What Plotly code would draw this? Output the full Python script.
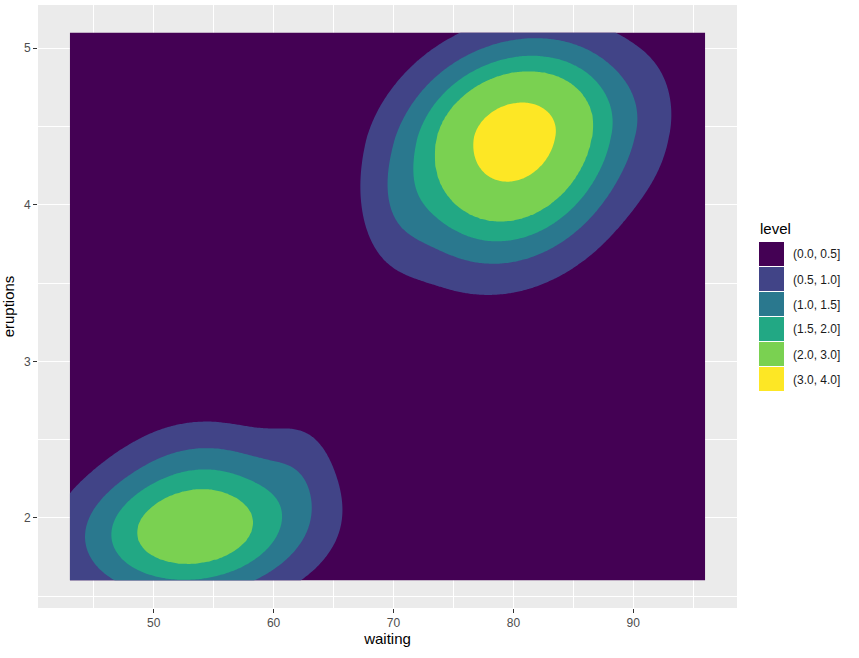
import numpy as np
import plotly.graph_objects as go

# ---- data ----
level_breaks = [0.0, 0.5, 1.0, 1.5, 2.0, 3.0, 4.0]
level_labels = ["(0.0, 0.5]", "(0.5, 1.0]", "(1.0, 1.5]", "(1.5, 2.0]", "(2.0, 3.0]", "(3.0, 4.0]"]
level_colors = ["#440154", "#414487", "#2A788E", "#22A884", "#7AD151", "#FDE725"]

waiting_range = [43, 96]
eruptions_range = [1.6, 5.1]
x_ticks = [50, 60, 70, 80, 90]
y_ticks = [2, 3, 4, 5]

# density bumps estimated from the contour rings
bump_wait = [80.1, 70.0, 92.0, 53.4, 54.0, 62.5]
bump_erupt = [4.43, 3.95, 4.55, 1.93, 2.45, 2.38]
bump_sd_wait = [6.2, 2.2, 2.2, 6.6, 5.0, 2.2]
bump_sd_erupt_up = [0.40, 0.30, 0.40, 0.31, 0.24, 0.26]
bump_sd_erupt_down = [0.51, 0.30, 0.40, 0.31, 0.20, 0.28]
bump_rho = [0.18, 0.0, 0.0, 0.12, 0.0, 0.0]
bump_peak = [3.5, 0.27, 0.14, 2.6, 0.35, 0.30]

# ---- density surface ----
xs = np.linspace(waiting_range[0], waiting_range[1], 260)
ys = np.linspace(eruptions_range[0], eruptions_range[1], 260)
X, Y = np.meshgrid(xs, ys)
Z = np.zeros_like(X)
for mx, my, sx, su, sd, r, p in zip(bump_wait, bump_erupt, bump_sd_wait,
                                    bump_sd_erupt_up, bump_sd_erupt_down, bump_rho, bump_peak):
    dx = (X - mx) / sx
    dy = (Y - my) / np.where(Y > my, su, sd)
    Z += p * np.exp(-0.5 / (1 - r * r) * (dx * dx - 2 * r * dx * dy + dy * dy))

# map level breaks to equally spaced band indices so uneven breaks work
Zi = np.interp(Z, level_breaks, list(range(len(level_breaks))))
n = len(level_colors)
colorscale = []
for i, c in enumerate(level_colors):
    colorscale.append([i / n, c])
    colorscale.append([(i + 1) / n, c])

fig = go.Figure()
fig.add_trace(go.Contour(
    x=xs, y=ys, z=Zi, zmin=0, zmax=n,
    autocontour=False,
    contours=dict(start=1, end=n - 1, size=1, coloring="fill"),
    line=dict(width=0),
    colorscale=colorscale, showscale=False, hoverinfo="skip",
))

# ---- layout ----
L, R, T, B = 38, 122, 5, 50
W, H = 859, 658
pw, ph = W - L - R, H - T - B
xpad = 0.05 * (waiting_range[1] - waiting_range[0])
ypad = 0.05 * (eruptions_range[1] - eruptions_range[0])

axis_common = dict(
    showgrid=True, gridcolor="white", gridwidth=1.1,
    zeroline=False, showline=False, automargin=False,
    ticks="outside", ticklen=4, tickwidth=1, tickcolor="#333333",
    tickfont=dict(family="Liberation Sans, Arial", size=12, color="#4D4D4D"),
)

fig.update_layout(
    width=W, height=H,
    margin=dict(l=L, r=R, t=T, b=B),
    paper_bgcolor="white", plot_bgcolor="#EBEBEB",
    showlegend=False,
    font=dict(family="Liberation Sans, Arial", color="#000000"),
    xaxis=dict(
        range=[waiting_range[0] - xpad, waiting_range[1] + xpad],
        tickvals=x_ticks,
        minor=dict(tickvals=[v + 5 for v in [40] + x_ticks], showgrid=True, gridcolor="white", gridwidth=0.5, ticks=""),
        title=dict(text="waiting", font=dict(size=15, color="#000000"), standoff=2),
        **axis_common,
    ),
    yaxis=dict(
        range=[eruptions_range[0] - ypad, eruptions_range[1] + ypad],
        tickvals=y_ticks,
        minor=dict(tickvals=[v - 0.5 for v in y_ticks], showgrid=True, gridcolor="white", gridwidth=0.5, ticks=""),
        title=dict(text="eruptions", font=dict(size=15, color="#000000"), standoff=6),
        **axis_common,
    ),
)

# ---- manual legend (ggplot style) ----
def px_to_paper_x(px):
    return (px - L) / pw

def px_to_paper_y(py):
    return (H - B - py) / ph

key_left, key_right = 759, 784
key_top0, key_h = 242, 25
fig.add_annotation(
    x=px_to_paper_x(758), y=px_to_paper_y(228), xref="paper", yref="paper",
    text="level", showarrow=False, xanchor="left", yanchor="middle",
    font=dict(size=15, color="#000000"),
)
for i, (lab, col) in enumerate(zip(level_labels, level_colors)):
    top = key_top0 + i * key_h
    fig.add_shape(
        type="rect", xref="paper", yref="paper",
        x0=px_to_paper_x(key_left), x1=px_to_paper_x(key_right),
        y0=px_to_paper_y(top + key_h - 1), y1=px_to_paper_y(top),
        fillcolor=col, line=dict(width=0),
    )
    fig.add_annotation(
        x=px_to_paper_x(791), y=px_to_paper_y(top + key_h / 2), xref="paper", yref="paper",
        text=lab, showarrow=False, xanchor="left", yanchor="middle",
        font=dict(size=12, color="#1A1A1A"),
    )

fig.write_html("out.html", config={"displayModeBar": False},
               post_script="document.body.style.margin='0';")
